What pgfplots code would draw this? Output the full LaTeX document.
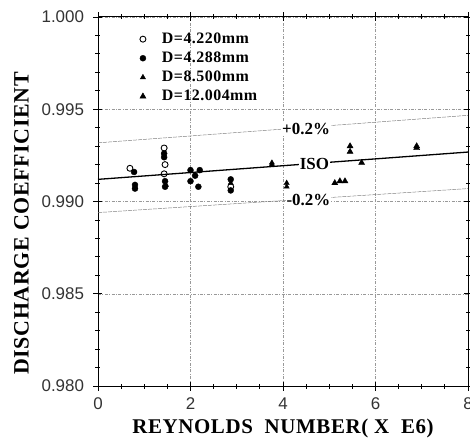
\documentclass[border=0pt]{standalone}
\usepackage{pgfplots}
\pgfplotsset{compat=1.18}
\usepackage{fontspec}
\setmainfont{Liberation Serif}
\setsansfont{Liberation Sans}
\begin{document}
\begin{tikzpicture}[x=1bp,y=1bp]
\useasboundingbox (-98bp,-52bp) rectangle (372bp,386bp);
\begin{axis}[
  at={(0,0)}, anchor=south west,
  scale only axis,
  width=370bp, height=369bp,
  xmin=0, xmax=8, ymin=0.980, ymax=1.000,
  xtick={0,2,4,6,8},
  ytick={0.980,0.985,0.990,0.995,1.000},
  minor x tick num=3,
  minor y tick num=4,
  tick align=center,
  major tick length=9bp,
  minor tick length=5bp,
  every tick/.style={black, line width=0.8pt},
  axis line style={line width=1pt},
  grid=major,
  major grid style={gray!80, line width=0.5pt, dash pattern=on 3bp off 1.5bp on 0.8bp off 1.5bp},
  ticklabel style={font=\sffamily\fontsize{17}{19}\selectfont, text=black!80},
  /pgf/number format/assume math mode=true,
  yticklabel style={xshift=-6bp, /pgf/number format/.cd, fixed, fixed zerofill, precision=3},
  xticklabel style={yshift=-4bp},
  scaled y ticks=false,
  xlabel={REYNOLDS\ \ NUMBER(\ X\ \ E6)},
  ylabel={DISCHARGE COEFFICIENT},
  xlabel style={font=\bfseries\fontsize{21}{23}\selectfont\addfontfeatures{LetterSpace=3}, yshift=-2bp},
  ylabel style={font=\bfseries\fontsize{22}{24}\selectfont\addfontfeatures{LetterSpace=3}, yshift=6bp, xshift=-22bp},
  legend style={at={(0.11,0.965)}, anchor=north west, draw=none, fill=none,
    font=\bfseries\fontsize{16}{17}\selectfont\addfontfeatures{LetterSpace=3},
    row sep=3bp, inner sep=1bp, column sep=14bp},
  legend cell align=left,
  clip=false,
]
% Data series
\addplot[only marks, mark=o, mark size=3bp, black, line width=0.9pt] coordinates {
 (0.69,0.9918) (1.43,0.9929) (1.45,0.9920) (1.43,0.9915) (2.87,0.9908)
};
\addlegendentry{D=4.220mm}
\addplot[only marks, mark=*, mark size=3bp, black] coordinates {
 (0.78,0.9916) (0.80,0.9909) (0.80,0.9907) (1.43,0.9926) (1.43,0.9924)
 (1.45,0.9911) (1.45,0.9908) (2.00,0.9917) (2.20,0.9917) (2.10,0.9914)
 (2.00,0.9911) (2.17,0.9908) (2.87,0.9912) (2.87,0.9906)
};
\addlegendentry{D=4.288mm}
\addplot[only marks, mark=triangle*, mark size=3bp, black] coordinates {
 (1.47,0.9909) (2.87,0.9910) (3.76,0.9921) (3.76,0.9920) (4.08,0.9910) (4.08,0.9908)
};
\addlegendentry{D=8.500mm}
\addplot[only marks, mark=triangle*, mark size=3.5bp, black] coordinates {
 (5.12,0.9910) (5.23,0.9911) (5.34,0.9911) (5.45,0.9930) (5.45,0.9927)
 (5.70,0.9921) (6.89,0.9930) (6.89,0.9929)
};
\addlegendentry{D=12.004mm}
% Reference lines
\addplot[black, line width=1.3pt, forget plot] coordinates {(0,0.99120) (8,0.99268)};
\addplot[gray, line width=0.5pt, dash pattern=on 4bp off 1bp, forget plot] coordinates {(0,0.99318) (8,0.99467)};
\addplot[gray, line width=0.5pt, dash pattern=on 4bp off 1bp, forget plot] coordinates {(0,0.98940) (8,0.99070)};
\node[fill=white, inner sep=1bp, font=\bfseries\fontsize{17}{18}\selectfont] at (axis cs:4.5,0.99395) {+0.2\%};
\node[fill=white, inner sep=1bp, font=\bfseries\fontsize{17}{18}\selectfont] at (axis cs:4.68,0.99205) {ISO};
\node[fill=white, inner sep=1bp, font=\bfseries\fontsize{17}{18}\selectfont] at (axis cs:4.55,0.99010) {-0.2\%};
\end{axis}
\end{tikzpicture}
\end{document}
